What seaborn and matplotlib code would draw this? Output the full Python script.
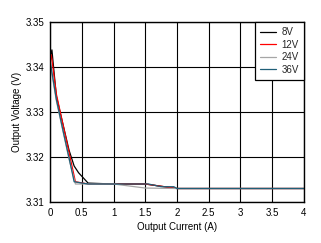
import matplotlib
matplotlib.use("Agg")
import matplotlib.pyplot as plt
import seaborn as sns
import pandas as pd

# ---- data ----
series_names = ["8V", "12V", "24V", "36V"]
x_8v = [0.0, 0.03, 0.1, 0.2, 0.3, 0.38, 0.45, 0.6, 1.0, 1.5, 2.0, 3.0, 4.0]
y_8v = [3.3420, 3.3438, 3.3335, 3.3275, 3.3215, 3.3180, 3.3165, 3.3142, 3.3140, 3.3140, 3.3130, 3.3130, 3.3130]
x_12v = [0.0, 0.02, 0.1, 0.2, 0.3, 0.4, 0.6, 1.0, 1.5, 2.0, 3.0, 4.0]
y_12v = [3.3410, 3.3427, 3.3340, 3.3275, 3.3210, 3.3145, 3.3140, 3.3140, 3.3140, 3.3130, 3.3130, 3.3130]
x_24v = [0.0, 0.1, 0.2, 0.3, 0.4, 0.6, 1.0, 1.5, 2.0, 3.0, 4.0]
y_24v = [3.3410, 3.3325, 3.3260, 3.3195, 3.3140, 3.3140, 3.3140, 3.3131, 3.3130, 3.3130, 3.3130]
x_36v = [0.0, 0.1, 0.2, 0.3, 0.38, 0.6, 1.0, 1.55, 1.75, 1.95, 2.0, 3.0, 4.0]
y_36v = [3.3415, 3.3328, 3.3262, 3.3198, 3.3145, 3.3140, 3.3140, 3.3140, 3.3134, 3.3134, 3.3130, 3.3130, 3.3130]
x_ticks = [0, 0.5, 1, 1.5, 2, 2.5, 3, 3.5, 4]
x_tick_labels = ["0", "0.5", "1", "1.5", "2", "2.5", "3", "3.5", "4"]
y_ticks = [3.31, 3.32, 3.33, 3.34, 3.35]
y_tick_labels = ["3.31", "3.32", "3.33", "3.34", "3.35"]

colors = ["#000000", "#ff0000", "#a6a6a6", "#1f5f78"]

frames = []
for name, xs, ys in zip(series_names, [x_8v, x_12v, x_24v, x_36v], [y_8v, y_12v, y_24v, y_36v]):
    frames.append(pd.DataFrame({"I": xs, "V": ys, "Vin": name}))
df = pd.concat(frames, ignore_index=True)

sns.set_style("white")
plt.rcParams["font.family"] = ["Liberation Sans", "DejaVu Sans"]

fig = plt.figure(figsize=(3.21, 2.43), dpi=100)
ax = fig.add_axes([0.1558, 0.1687, 0.947 - 0.1558, 0.9095 - 0.1687])

sns.lineplot(data=df, x="I", y="V", hue="Vin", hue_order=series_names,
             palette=colors, sort=False, estimator=None, linewidth=0.9, ax=ax)

ax.set_xlim(0, 4)
ax.set_ylim(3.31, 3.35)
ax.set_xticks(x_ticks)
ax.set_xticklabels(x_tick_labels)
ax.set_yticks(y_ticks)
ax.set_yticklabels(y_tick_labels)
ax.tick_params(axis="both", labelsize=7, length=0, pad=4, colors="black")
ax.grid(True, color="black", linewidth=0.8)
ax.set_axisbelow(True)
for s in ax.spines.values():
    s.set_color("black")
    s.set_linewidth(1.0)
    s.set_visible(True)

ax.set_xlabel("Output Current (A)", fontsize=7, color="black", labelpad=3)
ax.set_ylabel("Output Voltage (V)", fontsize=7, color="black", labelpad=3)

leg = ax.legend(loc="upper right", fontsize=7, frameon=True, fancybox=False,
                edgecolor="black", framealpha=1, borderaxespad=0,
                handlelength=1.7, handletextpad=0.5, labelspacing=0.25,
                borderpad=0.55)
leg.get_frame().set_linewidth(0.9)

fig.savefig("out.png", dpi=100)
